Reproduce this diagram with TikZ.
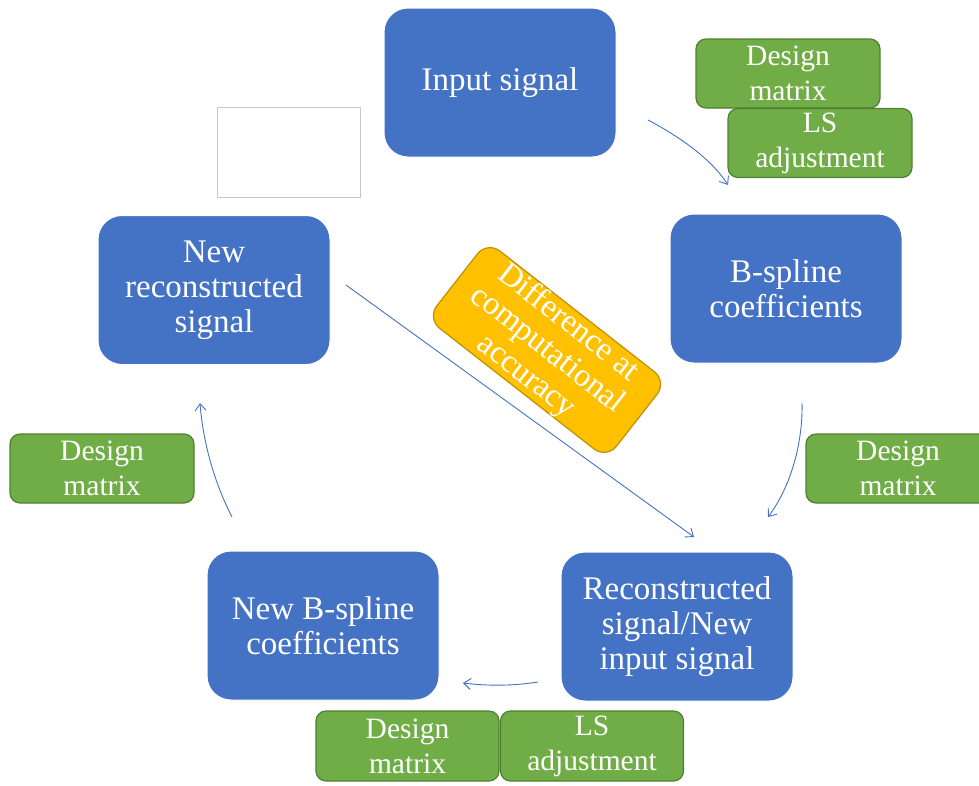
\documentclass[tikz,border=0pt]{standalone}
\usepackage{fontspec}
\setmainfont{Liberation Serif}
\usetikzlibrary{arrows.meta}
\definecolor{blu}{HTML}{4472C4}
\definecolor{grn}{HTML}{70AD47}
\definecolor{grnd}{HTML}{507E32}
\definecolor{org}{HTML}{FFC000}
\definecolor{orgd}{HTML}{BF9000}
\tikzset{
  bluebox/.style={draw=white, line width=1pt, fill=blu, rounded corners=24pt, minimum width=232pt, minimum height=149pt, inner sep=0pt, text=white, align=center, font=\fontsize{33}{35}\selectfont},
  greenbox/.style={draw=grnd, line width=1.2pt, fill=grn, rounded corners=10pt, minimum width=184pt, minimum height=69pt, inner sep=0pt, text=white, align=center, font=\fontsize{29.5}{35}\selectfont},
  orangebox/.style={draw=orgd, line width=1.2pt, fill=org, rounded corners=16pt, minimum width=228pt, minimum height=98pt, inner sep=0pt, text=white, align=center, font=\fontsize{32.5}{34}\selectfont},
  flow/.style={draw=blu, line width=0.9pt, -{Straight Barb[length=7pt,width=11pt]}}
}
\begin{document}
\begin{tikzpicture}[x=1pt,y=-1pt]
\useasboundingbox (0,0) rectangle (979,785);
% blue boxes
\node[bluebox] (input) at (500,82.5) {Input signal};
\node[bluebox] (bspl) at (786,288.5) {B-spline\\coefficients};
\node[bluebox] (recon) at (677,626.5) {Reconstructed\\signal/New\\input signal};
\node[bluebox] (newb) at (323,625.5) {New B-spline\\coefficients};
\node[bluebox] (newrec) at (214,290) {New\\reconstructed\\signal};
% white rectangle
\node[draw=black!22, line width=0.8pt, fill=white, minimum width=143pt, minimum height=90pt, inner sep=0pt] (blank) at (288.5,152) {};
% green boxes
\node[greenbox] (gdm1) at (788,73.5) {Design\\matrix};
\node[greenbox] (gls1) at (820,143) {LS\\adjustment};
\node[greenbox] (gdm2) at (898,468.5) {Design\\matrix};
\node[greenbox] (gdm3) at (102,468.5) {Design\\matrix};
\node[greenbox, minimum width=183pt, minimum height=70pt] (gdm4) at (407.5,746) {Design\\matrix};
\node[greenbox, minimum width=183pt, minimum height=70pt] (gls2) at (592,746) {LS\\adjustment};
% connector end points
\coordinate (a1) at (648,120);
\coordinate (a2) at (728,185);
\coordinate (b1) at (802,403);
\coordinate (b2) at (768,517);
\coordinate (c1) at (538,682);
\coordinate (c2) at (463,683);
\coordinate (d1) at (232,517);
\coordinate (d2) at (200,403);
\coordinate (e1) at (346,285);
\coordinate (e2) at (694,537);
\draw[flow] (e1) -- (e2);
% orange box
\node[orangebox, rotate=-38] (diff) at (547,350) {Difference at\\computational\\accuracy};
% cycle arrows
\draw[flow] (a1) .. controls (682,138) and (712,160) .. (a2);
\draw[flow] (b1) .. controls (803,440) and (792,485) .. (b2);
\draw[flow] (c1) .. controls (512,686) and (488,686) .. (c2);
\draw[flow] (d1) .. controls (214,482) and (203,442) .. (d2);
\end{tikzpicture}
\end{document}
